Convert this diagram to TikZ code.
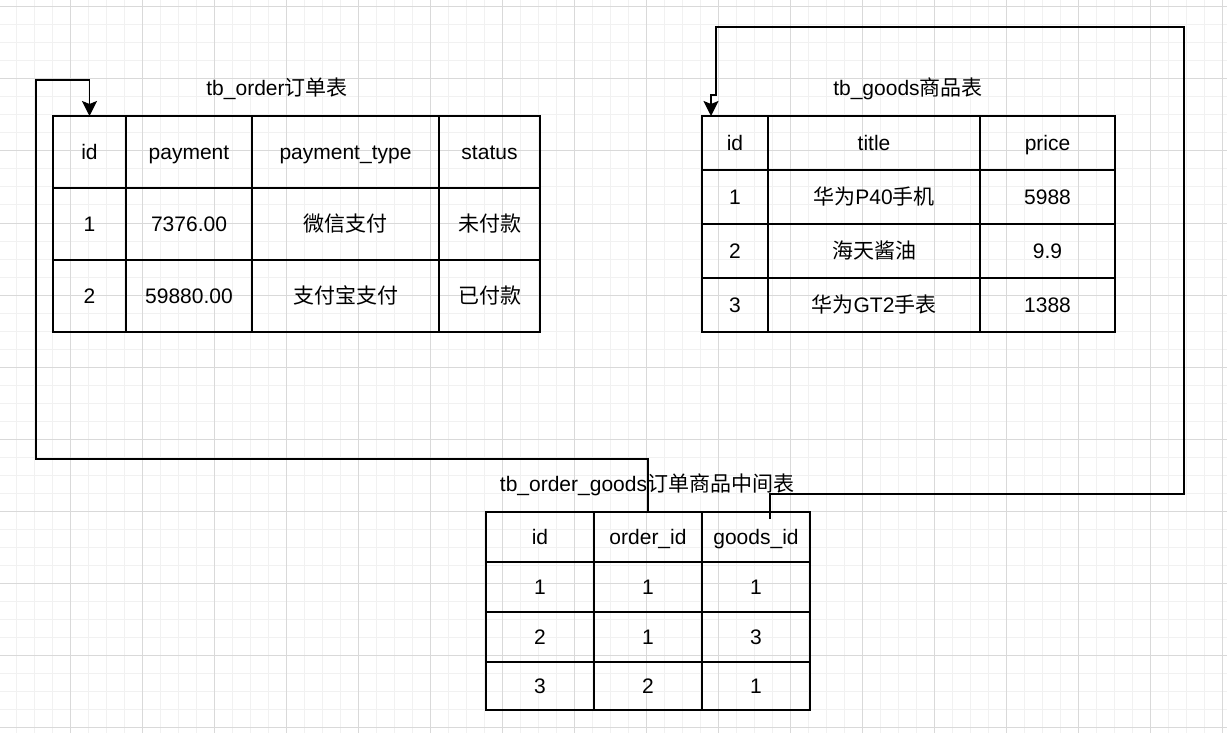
\documentclass[tikz,border=0pt]{standalone}
\usepackage{fontspec}
\setmainfont{Liberation Sans}
\newfontfamily\cjk{Noto Sans CJK SC}
\usetikzlibrary{arrows.meta}
\definecolor{gridminor}{HTML}{F1F1F1}
\definecolor{gridmajor}{HTML}{D9D9D9}
\tikzset{
  cell/.style={draw, line width=1.8pt, anchor=north west, inner sep=0pt, outer sep=0pt,
    text height=15pt, text depth=0pt, font=\fontsize{21}{25}\selectfont},
  title/.style={text height=15pt, text depth=0pt, font=\fontsize{21}{25}\selectfont},
  conn/.style={line width=1.8pt, -{Stealth[length=15pt,width=15pt,inset=3pt]}},
}

\begin{document}
\begin{tikzpicture}[x=1pt, y=-1pt]
\useasboundingbox [fill=white] (0,0) rectangle (1227,733);

%%%%-----------Rutenett-------------%%%%
\foreach \k in {0,...,69} \draw [gridminor, line width=1pt] (-2+18*\k,0) -- (-2+18*\k,733);
\foreach \k in {0,...,40} \draw [gridminor, line width=1pt] (0,7+18*\k) -- (1227,7+18*\k);
\foreach \k in {0,...,17} \draw [gridmajor, line width=1pt] (-2+72*\k,0) -- (-2+72*\k,733);
\foreach \k in {0,...,10} \draw [gridmajor, line width=1pt] (0,7+72*\k) -- (1227,7+72*\k);

%%%%-----------tb_order-------------%%%%
\node [title] (otitle) at (277,88) {tb\_order{\cjk 订单表}};

\node [cell, minimum width=73, minimum height=72]  (o00) at (53,116)  {id};
\node [cell, minimum width=126, minimum height=72] (o01) at (126,116) {payment};
\node [cell, minimum width=187, minimum height=72] (o02) at (252,116) {payment\_type};
\node [cell, minimum width=101, minimum height=72] (o03) at (439,116) {status};

\node [cell, minimum width=73, minimum height=72]  (o10) at (53,188)  {1};
\node [cell, minimum width=126, minimum height=72] (o11) at (126,188) {7376.00};
\node [cell, minimum width=187, minimum height=72] (o12) at (252,188) {\cjk 微信支付};
\node [cell, minimum width=101, minimum height=72] (o13) at (439,188) {\cjk 未付款};

\node [cell, minimum width=73, minimum height=72]  (o20) at (53,260)  {2};
\node [cell, minimum width=126, minimum height=72] (o21) at (126,260) {59880.00};
\node [cell, minimum width=187, minimum height=72] (o22) at (252,260) {\cjk 支付宝支付};
\node [cell, minimum width=101, minimum height=72] (o23) at (439,260) {\cjk 已付款};

%%%%-----------tb_goods-------------%%%%
\node [title] (gtitle) at (908,88) {tb\_goods{\cjk 商品表}};

\node [cell, minimum width=66, minimum height=54]  (g00) at (702,116) {id};
\node [cell, minimum width=212, minimum height=54] (g01) at (768,116) {title};
\node [cell, minimum width=135, minimum height=54] (g02) at (980,116) {price};

\node [cell, minimum width=66, minimum height=54]  (g10) at (702,170) {1};
\node [cell, minimum width=212, minimum height=54] (g11) at (768,170) {{\cjk 华为}P40{\cjk 手机}};
\node [cell, minimum width=135, minimum height=54] (g12) at (980,170) {5988};

\node [cell, minimum width=66, minimum height=54]  (g20) at (702,224) {2};
\node [cell, minimum width=212, minimum height=54] (g21) at (768,224) {\cjk 海天酱油};
\node [cell, minimum width=135, minimum height=54] (g22) at (980,224) {9.9};

\node [cell, minimum width=66, minimum height=54]  (g30) at (702,278) {3};
\node [cell, minimum width=212, minimum height=54] (g31) at (768,278) {{\cjk 华为}GT2{\cjk 手表}};
\node [cell, minimum width=135, minimum height=54] (g32) at (980,278) {1388};

%%%%-----------tb_order_goods-------------%%%%
\node [title] (mtitle) at (647,484) {tb\_order\_goods{\cjk 订单商品中间表}};

\node [cell, minimum width=108, minimum height=50] (m00) at (486,512) {id};
\node [cell, minimum width=108, minimum height=50] (m01) at (594,512) {order\_id};
\node [cell, minimum width=108, minimum height=50] (m02) at (702,512) {goods\_id};

\node [cell, minimum width=108, minimum height=50] (m10) at (486,562) {1};
\node [cell, minimum width=108, minimum height=50] (m11) at (594,562) {1};
\node [cell, minimum width=108, minimum height=50] (m12) at (702,562) {1};

\node [cell, minimum width=108, minimum height=50] (m20) at (486,612) {2};
\node [cell, minimum width=108, minimum height=50] (m21) at (594,612) {1};
\node [cell, minimum width=108, minimum height=50] (m22) at (702,612) {3};

\node [cell, minimum width=108, minimum height=48] (m30) at (486,662) {3};
\node [cell, minimum width=108, minimum height=48] (m31) at (594,662) {2};
\node [cell, minimum width=108, minimum height=48] (m32) at (702,662) {1};

%%%%-----------Forbindelser-------------%%%%
\coordinate (gsrc) at (770,519);
\coordinate (gin) at (711,116);

\draw [conn] (m01.north) |- (36,459) -- (36,80) -| (o00.north);
\draw [conn] (gsrc) |- (1184,494) -- (1184,27) -| (716,95) -| (gin);
\end{tikzpicture}
\end{document}
